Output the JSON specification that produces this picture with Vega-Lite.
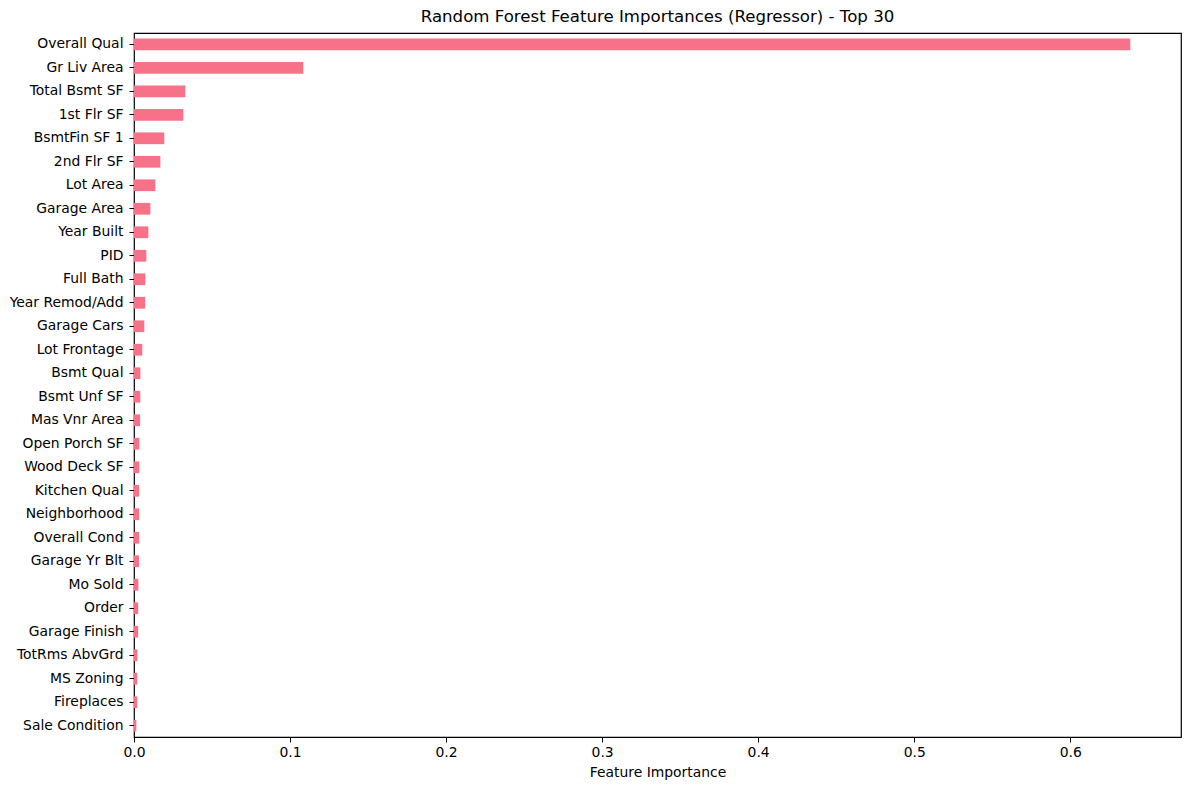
{
  "$schema": "https://vega.github.io/schema/vega-lite/v6.json",
  "width": 1047,
  "height": 704,
  "autosize": {"type": "none"},
  "padding": {"left": 134, "top": 33, "right": 8, "bottom": 53},
  "background": "white",
  "title": {
    "text": "Random Forest Feature Importances (Regressor) - Top 30",
    "font": "DejaVu Sans",
    "fontSize": 16.6,
    "fontWeight": "normal",
    "color": "#000",
    "offset": 7
  },
  "config": {
    "view": {"stroke": "#000", "strokeWidth": 1.2},
    "font": "DejaVu Sans"
  },
  "data": {
    "values": [
      {"feature": "Overall Qual", "importance": 0.6385},
      {"feature": "Gr Liv Area", "importance": 0.1085},
      {"feature": "Total Bsmt SF", "importance": 0.0329},
      {"feature": "1st Flr SF", "importance": 0.0316},
      {"feature": "BsmtFin SF 1", "importance": 0.0194},
      {"feature": "2nd Flr SF", "importance": 0.0169},
      {"feature": "Lot Area", "importance": 0.0137},
      {"feature": "Garage Area", "importance": 0.0105},
      {"feature": "Year Built", "importance": 0.0092},
      {"feature": "PID", "importance": 0.0079},
      {"feature": "Full Bath", "importance": 0.0073},
      {"feature": "Year Remod/Add", "importance": 0.0072},
      {"feature": "Garage Cars", "importance": 0.0066},
      {"feature": "Lot Frontage", "importance": 0.0053},
      {"feature": "Bsmt Qual", "importance": 0.0041},
      {"feature": "Bsmt Unf SF", "importance": 0.0040},
      {"feature": "Mas Vnr Area", "importance": 0.0039},
      {"feature": "Open Porch SF", "importance": 0.0034},
      {"feature": "Wood Deck SF", "importance": 0.0034},
      {"feature": "Kitchen Qual", "importance": 0.0033},
      {"feature": "Neighborhood", "importance": 0.0033},
      {"feature": "Overall Cond", "importance": 0.0033},
      {"feature": "Garage Yr Blt", "importance": 0.0032},
      {"feature": "Mo Sold", "importance": 0.0028},
      {"feature": "Order", "importance": 0.0027},
      {"feature": "Garage Finish", "importance": 0.0027},
      {"feature": "TotRms AbvGrd", "importance": 0.0022},
      {"feature": "MS Zoning", "importance": 0.0021},
      {"feature": "Fireplaces", "importance": 0.0021},
      {"feature": "Sale Condition", "importance": 0.0015}
    ]
  },
  "mark": {"type": "bar", "color": "#f77189"},
  "encoding": {
    "y": {
      "field": "feature",
      "type": "nominal",
      "sort": null,
      "scale": {"paddingInner": 0.5, "paddingOuter": 0.23},
      "axis": {
        "title": null,
        "labelFont": "DejaVu Sans",
        "labelFontSize": 13.9,
        "labelColor": "#000",
        "labelPadding": 6,
        "tickColor": "#000",
        "tickSize": 5,
        "domain": false,
        "grid": false
      }
    },
    "x": {
      "field": "importance",
      "type": "quantitative",
      "scale": {"domain": [0, 0.671], "nice": false, "zero": true},
      "axis": {
        "title": "Feature Importance",
        "titleFont": "DejaVu Sans",
        "titleFontSize": 13.9,
        "titleFontWeight": "normal",
        "titleColor": "#000",
        "titlePadding": 7,
        "values": [0, 0.1, 0.2, 0.3, 0.4, 0.5, 0.6],
        "format": ".1f",
        "labelFlush": false,
        "labelFont": "DejaVu Sans",
        "labelFontSize": 13.9,
        "labelColor": "#000",
        "labelPadding": 3,
        "tickColor": "#000",
        "tickSize": 5,
        "domain": false,
        "grid": false
      }
    }
  }
}
